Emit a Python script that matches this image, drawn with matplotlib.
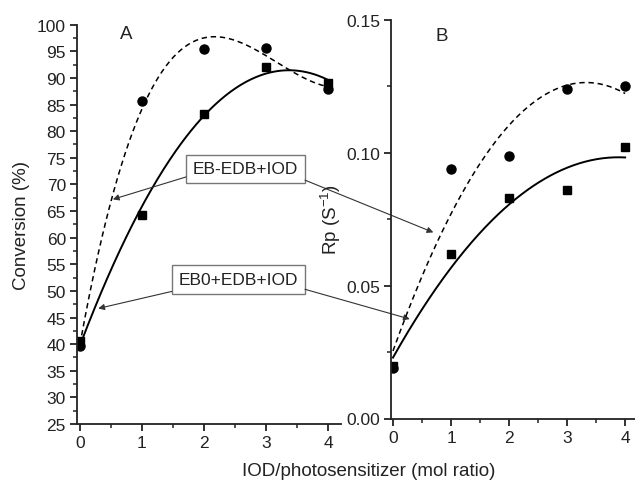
import numpy as np
import matplotlib.pyplot as plt
from matplotlib.ticker import MultipleLocator

plt.rcParams['font.family'] = ['Liberation Sans', 'DejaVu Sans']

# IOD/photosensitizer mol ratio
ratio = [0, 1, 2, 3, 4]

# panel A: final conversion (%)
conv_eb = [39.6, 85.6, 95.4, 95.6, 88.0]     # EB-EDB+IOD (circles)
conv_eb0 = [40.5, 64.3, 83.2, 92.0, 89.0]    # EB0+EDB+IOD (squares)

# panel B: polymerization rate Rp (s^-1)
rp_eb = [0.0189, 0.0938, 0.0988, 0.1239, 0.1249]
rp_eb0 = [0.0199, 0.0619, 0.0829, 0.0859, 0.1020]

W, H = 635, 481
fig = plt.figure(figsize=(W / 100, H / 100), dpi=100)

# axes placed in pixel terms of the original figure
axA = fig.add_axes([77 / W, 1 - 425 / H, (341 - 77) / W, (425 - 25.7) / H])
axB = fig.add_axes([391 / W, 1 - 419.5 / H, (635 - 391) / W, (419.5 - 20.7) / H])
axA.patch.set_alpha(0)
axB.patch.set_alpha(0)

xfit = np.linspace(0, 4, 200)


def fit_line(ax, y, deg, ls, lw):
    p = np.polyfit(ratio, y, deg)
    ax.plot(xfit, np.polyval(p, xfit), color='black', ls=ls, lw=lw)


fit_line(axA, conv_eb, 3, (0, (3.5, 2.5)), 1.1)
fit_line(axA, conv_eb0, 2, '-', 1.4)
axA.plot(ratio, conv_eb0, 's', color='black', ms=6)
axA.plot(ratio, conv_eb, 'o', color='black', ms=6.5)

fit_line(axB, rp_eb, 2, (0, (3.5, 2.5)), 1.1)
fit_line(axB, rp_eb0, 2, '-', 1.4)
axB.plot(ratio, rp_eb0, 's', color='black', ms=6)
axB.plot(ratio, rp_eb, 'o', color='black', ms=6.5)

axA.set_xlim(-0.048, 4.21)
axA.set_ylim(25, 100)
axA.yaxis.set_major_locator(MultipleLocator(5))
axA.yaxis.set_minor_locator(MultipleLocator(2.5))

axB.set_xlim(-0.034, 4.17)
axB.set_ylim(0, 0.15)
axB.yaxis.set_major_locator(MultipleLocator(0.05))
axB.yaxis.set_minor_locator(MultipleLocator(0.025))
axB.yaxis.set_major_formatter(plt.FormatStrFormatter('%.2f'))

for ax in (axA, axB):
    ax.xaxis.set_major_locator(MultipleLocator(1))
    ax.xaxis.set_minor_locator(MultipleLocator(0.5))
    for s in ('top', 'right'):
        ax.spines[s].set_visible(False)
    for s in ('left', 'bottom'):
        ax.spines[s].set_linewidth(1.3)
        ax.spines[s].set_color('#222222')
    ax.tick_params(which='major', direction='out', length=5, width=1.3,
                   labelsize=12.5, colors='#222222', pad=3)
    ax.tick_params(which='minor', direction='out', length=3, width=1.1,
                   colors='#222222')

axA.set_ylabel('Conversion (%)', fontsize=13.5, labelpad=5, color='#222222')
axB.set_ylabel('Rp (S$^{\\mathregular{-1}}$)', fontsize=13.5, labelpad=2,
               color='#222222')
fig.text(369 / W, 1 - 472 / H, 'IOD/photosensitizer (mol ratio)',
         ha='center', va='center', fontsize=13.5, color='#222222')

axA.text(0.65, 97.5, 'A', fontsize=13.5, color='#222222')
axB.text(0.73, 0.1425, 'B', fontsize=13.5, color='#222222')

# labels with arrows pointing at the fitted curves in both panels
box = dict(boxstyle='square,pad=0.4', fc='white', ec='#777777', lw=1)
axA.text(2.67, 72.9, 'EB-EDB+IOD', ha='center', va='center', fontsize=12.5,
         bbox=box, color='#222222')
axA.text(2.56, 52.2, 'EB0+EDB+IOD', ha='center', va='center', fontsize=12.5,
         bbox=box, color='#222222')

arrow = dict(arrowstyle='-|>', color='#333333', lw=0.8, mutation_scale=9,
             shrinkA=0, shrinkB=0)
axA.annotate('', xy=(0.53, 67.2), xytext=(1.71, 71.4), arrowprops=arrow)
axA.annotate('', xy=(0.295, 46.7), xytext=(1.48, 49.9), arrowprops=arrow)
axA.annotate('', xy=(0.695, 0.070), xycoords=axB.transData,
             xytext=(3.63, 70.8), textcoords=axA.transData,
             arrowprops=arrow, annotation_clip=False)
axA.annotate('', xy=(0.29, 0.0374), xycoords=axB.transData,
             xytext=(3.63, 50.3), textcoords=axA.transData,
             arrowprops=arrow, annotation_clip=False)

fig.savefig('out.png', dpi=100)
